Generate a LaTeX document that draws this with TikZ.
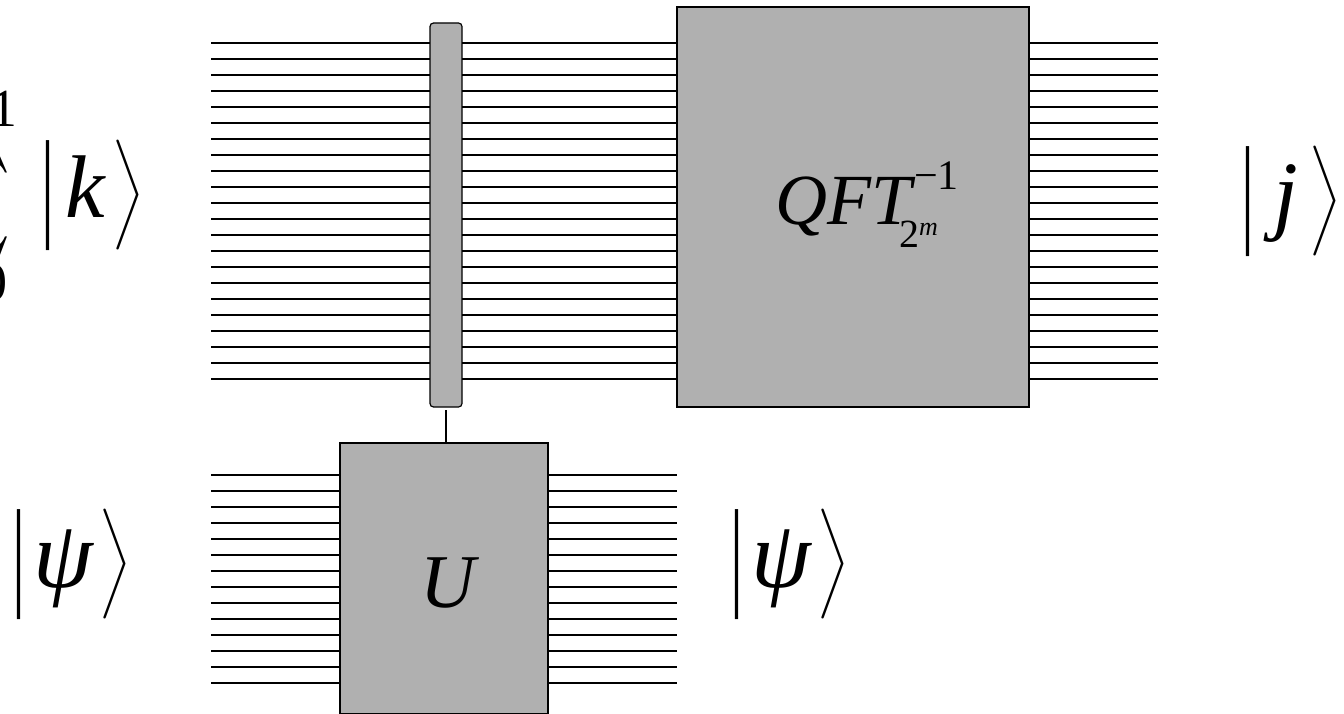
\documentclass[tikz,border=0pt]{standalone}
\usepackage{fontspec}
\usepackage{graphicx}
\setmainfont{Liberation Serif}
\usetikzlibrary{positioning}
\definecolor{gateFill}{HTML}{B0B0B0}
% bar, first gap, letter, second gap, closing bracket
\newcommand{\ketdelim}[2]{\raisebox{20pt}{$\vcenter{\hbox{\resizebox*{#1}{110pt}{#2}}}$}}
\newcommand{\ketlabel}[4][89]{\ketdelim{13pt}{|}\kern#2pt%
    {\fontsize{#1}{#1}\selectfont\itshape #3}\kern#4pt\ketdelim{32pt}{$\Bigg\rangle$}}

\begin{document}
\begin{tikzpicture}[
    x=1pt, y=-1pt,
    gatebox/.style={
        draw=black, fill=gateFill, line width=1.2pt,
        inner sep=0pt, outer sep=0pt
    },
    barbox/.style={
        gatebox, rounded corners=3.5pt,
        minimum width=32pt, minimum height=384pt
    },
    wire/.style={draw=black, line width=1.2pt},
    heavywire/.style={draw=black, line width=2pt},
    ketnode/.style={inner sep=0pt, outer sep=0pt, anchor=base west},
]
\useasboundingbox (0,0) rectangle (1344,714);

% ============================================================
%  GATES
% ============================================================
\node[barbox] (ctrlbar) at (446,215) {};
\node[gatebox, minimum width=352pt, minimum height=400pt] (qftgate) at (853,207) {};
\node[inner sep=0pt, anchor=base west, font=\fontsize{72}{76}\selectfont\itshape] (qftlabel) at (775,225)
    {QFT\rlap{\kern3pt\raisebox{35pt}{\fontsize{42}{42}\selectfont\upshape −1}}\kern-12pt\raisebox{-23pt}{\fontsize{40}{40}\selectfont\upshape 2\raisebox{12pt}{\fontsize{26}{26}\selectfont\itshape m}}};
\node[gatebox, minimum width=208pt, minimum height=271pt] (ugate) at (444,578.5) {};
\node[font=\fontsize{76}{80}\selectfont\itshape, inner sep=0pt, anchor=base] (ulabel) at (448,607) {U};

\coordinate (ctrlfoot) at (446,410);
\draw[wire] (ctrlfoot) -- (ctrlfoot |- ugate.north);

% ============================================================
%  WIRES
% ============================================================
\foreach \i in {0,...,21} {
    \coordinate (topin\i) at (211,43+16*\i);
    \coordinate (topout\i) at (1158,43+16*\i);
    \coordinate (thickA\i) at (548,43+16*\i);
    \coordinate (thickB\i) at (596,43+16*\i);
    \draw[wire] (topin\i) -- (ctrlbar.west |- topin\i);
    \draw[wire] (ctrlbar.east |- topin\i) -- (qftgate.west |- topin\i);
    \draw[heavywire] (thickA\i) -- (thickB\i);
    \draw[wire] (qftgate.east |- topout\i) -- (topout\i);
}
\foreach \i in {0,...,13} {
    \coordinate (lowin\i) at (211,475+16*\i);
    \coordinate (lowout\i) at (677,475+16*\i);
    \draw[wire] (lowin\i) -- (ugate.west |- lowin\i);
    \draw[wire] (ugate.east |- lowout\i) -- (lowout\i);
}

% ============================================================
%  LABELS
% ============================================================
\node[inner sep=0pt, anchor=east] (sumlabel) at (18,174)
    {\scalebox{8}{$\displaystyle\sum^{\makebox[16pt][r]{\fontsize{6.7}{7}\selectfont 2\raisebox{3pt}{\fontsize{4.5}{5}\selectfont\itshape m}−1}}$}};
\node[inner sep=0pt, anchor=base east, font=\fontsize{54}{56}\selectfont] (sumlower) at (8,300)
    {{\itshape k}=0};
\node[ketnode] (ketk) at (41.5,218) {\ketlabel{11}{k}{7}};
\node[ketnode] (ketpsiA) at (12.5,587) {\ketlabel[96]{8}{ψ}{6}};
\node[ketnode] (ketpsiB) at (730.5,587) {\ketlabel[96]{8}{ψ}{6}};
\node[ketnode] (ketj) at (1241.5,224) {\ketlabel{19}{j}{11}};

\end{tikzpicture}
\end{document}
